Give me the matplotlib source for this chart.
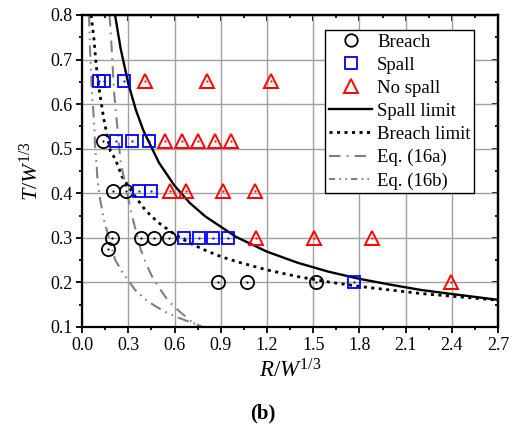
import matplotlib
matplotlib.use("Agg")
import matplotlib.pyplot as plt
from matplotlib.lines import Line2D

plt.rcParams['font.family'] = ['Liberation Serif', 'DejaVu Serif']
plt.rcParams['mathtext.fontset'] = 'custom'
plt.rcParams['mathtext.rm'] = 'Liberation Serif'
plt.rcParams['mathtext.it'] = 'Liberation Serif:italic'

# Test outcomes (scaled distance R/W^1/3, scaled thickness T/W^1/3)
breach_r = [0.138, 0.201, 0.284, 0.195, 0.171, 0.381, 0.469, 0.567, 0.885, 1.069, 1.516]
breach_t = [0.518, 0.405, 0.405, 0.300, 0.274, 0.300, 0.300, 0.300, 0.200, 0.200, 0.200]

spall_r = [0.110, 0.141, 0.273, 0.219, 0.327, 0.433, 0.368, 0.448, 0.664, 0.757, 0.850, 0.945, 1.767]
spall_t = [0.652, 0.652, 0.652, 0.518, 0.518, 0.518, 0.405, 0.405, 0.300, 0.300, 0.300, 0.300, 0.200]

nospall_r = [0.409, 0.813, 1.224, 0.539, 0.647, 0.755, 0.863, 0.967, 0.571, 0.675, 0.917, 1.123,
             1.130, 1.508, 1.884, 2.397]
nospall_t = [0.652, 0.652, 0.652, 0.518, 0.518, 0.518, 0.518, 0.518, 0.405, 0.405, 0.405, 0.405,
             0.300, 0.300, 0.300, 0.202]

# Damage limit curves
spall_lim_r = [0.214, 0.25, 0.30, 0.35, 0.40, 0.50, 0.60, 0.70, 0.80, 1.00, 1.20, 1.40, 1.60,
               1.80, 2.00, 2.20, 2.40, 2.70]
spall_lim_t = [0.800, 0.725, 0.646, 0.586, 0.539, 0.468, 0.417, 0.378, 0.348, 0.302, 0.269, 0.244,
               0.224, 0.208, 0.195, 0.183, 0.174, 0.161]

breach_lim_r = [0.058, 0.076, 0.091, 0.104, 0.14, 0.184, 0.214, 0.26, 0.30, 0.344, 0.40, 0.44, 0.50,
                0.60, 0.70, 0.80, 0.90, 1.00, 1.20, 1.40, 1.60, 1.80, 2.00, 2.20, 2.40, 2.70]
breach_lim_t = [0.800, 0.750, 0.690, 0.649, 0.568, 0.494, 0.478, 0.437, 0.416, 0.393, 0.367, 0.352, 0.333,
                0.308, 0.288, 0.272, 0.258, 0.247, 0.228, 0.213, 0.201, 0.191, 0.183, 0.175, 0.169, 0.160]

eq16a_r = [0.178, 0.184, 0.197, 0.208, 0.25, 0.32, 0.381, 0.409, 0.45, 0.502, 0.56, 0.632, 0.71, 0.777]
eq16a_t = [0.800, 0.772, 0.695, 0.625, 0.470, 0.355, 0.273, 0.247, 0.216, 0.187, 0.158, 0.135, 0.112, 0.100]

eq16b_r = [0.045, 0.052, 0.062, 0.079, 0.085, 0.094, 0.100, 0.118, 0.140, 0.149, 0.214, 0.26,
           0.344, 0.42, 0.489, 0.545, 0.63, 0.71, 0.79]
eq16b_t = [0.800, 0.720, 0.640, 0.552, 0.500, 0.466, 0.430, 0.385, 0.343, 0.331, 0.251, 0.224,
           0.183, 0.159, 0.144, 0.133, 0.120, 0.110, 0.100]

x_ticks = [0.0, 0.3, 0.6, 0.9, 1.2, 1.5, 1.8, 2.1, 2.4, 2.7]
y_ticks = [0.1, 0.2, 0.3, 0.4, 0.5, 0.6, 0.7, 0.8]

fig = plt.figure(figsize=(5.13, 4.28), dpi=100)
ax = fig.add_axes([0.160, 0.236, 0.811, 0.729])

ax.set_xlim(0.0, 2.7)
ax.set_ylim(0.1, 0.8)
ax.set_xticks(x_ticks)
ax.set_yticks(y_ticks)
ax.set_xticklabels([f"{v:.1f}" for v in x_ticks])
ax.set_yticklabels([f"{v:.1f}" for v in y_ticks])
ax.set_xticks([v + 0.15 for v in x_ticks[:-1]], minor=True)
ax.set_yticks([v + 0.05 for v in y_ticks[:-1]], minor=True)
ax.grid(True, which='major', color='#a0a0a0', lw=1.0)
ax.set_axisbelow(True)

for s in ax.spines.values():
    s.set_linewidth(1.6)
    s.set_color('black')

ax.tick_params(which='both', direction='out', top=False, right=False, labelsize=13, width=1.3)
ax.tick_params(which='major', length=4.5, pad=2.5)
ax.tick_params(which='minor', length=2.5)
# inward ticks on the top and right frame
ax2 = ax.secondary_xaxis('top')
ax2.set_xticks(x_ticks)
ax2.set_xticks([v + 0.15 for v in x_ticks[:-1]], minor=True)
ax2.tick_params(which='both', direction='in', labeltop=False, width=1.3)
ax2.tick_params(which='major', length=4.5)
ax2.tick_params(which='minor', length=2.5)
ax2.spines['top'].set_linewidth(1.6)
ax3 = ax.secondary_yaxis('right')
ax3.set_yticks(y_ticks)
ax3.set_yticks([v + 0.05 for v in y_ticks[:-1]], minor=True)
ax3.tick_params(which='both', direction='in', labelright=False, width=1.3)
ax3.tick_params(which='major', length=4.5)
ax3.tick_params(which='minor', length=2.5)
ax3.spines['right'].set_linewidth(1.6)

ax.plot(spall_lim_r, spall_lim_t, color='black', lw=1.7, solid_capstyle='butt')
ax.plot(breach_lim_r, breach_lim_t, color='black', lw=2.0, linestyle=(0, (1.1, 1.6)))
ax.plot(eq16a_r, eq16a_t, color='#808080', lw=1.5, linestyle=(0, (5.5, 3.0, 0.8, 3.0)))
ax.plot(eq16b_r, eq16b_t, color='#808080', lw=1.5, linestyle=(0, (5.5, 2.5, 0.8, 2.5, 0.8, 2.5)))

ax.plot(breach_r, breach_t, 'o', ms=9.5, mfc='none', mec='black', mew=1.3, clip_on=False)
ax.plot(spall_r, spall_t, 's', ms=8, mfc='none', mec='#0000ff', mew=1.3, clip_on=False)
ax.plot(nospall_r, nospall_t, '^', ms=10.5, mfc='none', mec='#ff0000', mew=1.4, clip_on=False)
# small centre points inside the open symbols
ax.plot(breach_r, breach_t, '.', ms=1.2, color='black')
ax.plot(spall_r, spall_t, '.', ms=1.2, color='#0000ff')
ax.plot(nospall_r, nospall_t, '.', ms=1.2, color='#ff0000')

handles = [
    Line2D([], [], ls='none', marker='o', ms=9, mfc='none', mec='black', mew=1.3),
    Line2D([], [], ls='none', marker='s', ms=8, mfc='none', mec='#0000ff', mew=1.3),
    Line2D([], [], ls='none', marker='^', ms=10, mfc='none', mec='#ff0000', mew=1.4),
    Line2D([], [], color='black', lw=1.7),
    Line2D([], [], color='black', lw=2.0, linestyle=(0, (1.1, 1.6))),
    Line2D([], [], color='#808080', lw=1.5, linestyle=(0, (5.5, 3.0, 0.8, 3.0))),
    Line2D([], [], color='#808080', lw=1.5, linestyle=(0, (3.0, 2.0, 0.8, 2.0, 0.8, 2.0))),
]
labels = ['Breach', 'Spall', 'No spall', 'Spall limit', 'Breach limit', 'Eq. (16a)', 'Eq. (16b)']
leg = ax.legend(handles, labels, loc='upper left', bbox_to_anchor=(0.585, 0.953),
                fontsize=13.5, frameon=True, fancybox=False, framealpha=1.0,
                edgecolor='black', handlelength=2.3, handletextpad=0.25,
                labelspacing=0.32, borderpad=0.2, borderaxespad=0.0)
leg.get_frame().set_linewidth(1.0)

ax.set_xlabel(r'$R/W^{1/3}$', fontsize=16.5, labelpad=4)
ax.set_ylabel(r'$T/W^{1/3}$', fontsize=16, labelpad=5)
fig.text(0.512, 0.035, '(b)', ha='center', va='center', fontsize=15, fontweight='bold')

fig.savefig('out.png', dpi=100)
